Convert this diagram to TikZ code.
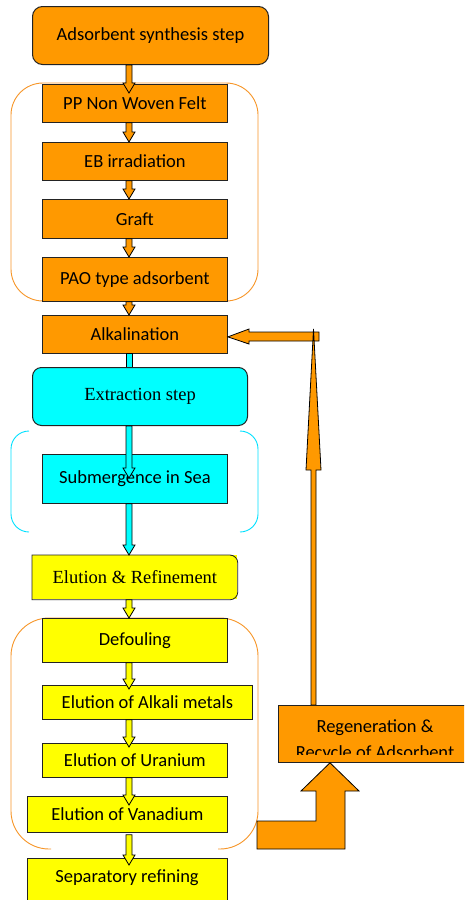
\documentclass[tikz,border=0pt]{standalone}
\usepackage{fontspec}
\setmainfont{Carlito}
\newfontfamily\serifface{Liberation Serif}
\usetikzlibrary{calc}
\definecolor{org}{RGB}{255,153,0}
\definecolor{cyn}{RGB}{0,255,255}
\definecolor{yel}{RGB}{255,255,0}
\definecolor{brorg}{RGB}{247,150,40}
\definecolor{brcyn}{RGB}{0,225,255}
\definecolor{edge}{RGB}{35,35,35}
\tikzset{
  base/.style={draw=edge, line width=0.8pt, inner sep=0pt, anchor=north west,
    font=\fontsize{18.5}{22}\selectfont, text=black},
  obox/.style={base, fill=org},
  cbox/.style={base, fill=cyn},
  ybox/.style={base, fill=yel},
  arrowline/.style={draw=black, line width=0.8pt, line join=miter},
  bracket/.style={line width=0.9pt},
  txt/.style={font=\fontsize{18.5}{22}\selectfont, inner sep=0pt, text=black}
}
\newcommand\blkarrow[3]{\filldraw[arrowline,fill=#1] let \p1=#2, \p2=#3 in
  (\x1-3pt,\y1) -- (\x1-3pt,\y2+10pt) -- (\x1-6pt,\y2+10pt) -- (\x1,\y2) --
  (\x1+6pt,\y2+10pt) -- (\x1+3pt,\y2+10pt) -- (\x1+3pt,\y1) -- cycle;}
\begin{document}
\begin{tikzpicture}[x=1pt,y=-1pt]
\clip (0,0) rectangle (464,900);
\fill[white] (0,0) rectangle (464,900);
\coordinate (ax) at (129,0);
% brackets
\draw[bracket, brorg, rounded corners=32pt] (11,83) rectangle (258,301);
\draw[bracket, brcyn, rounded corners=18pt] (29,431) -- (11,431) -- (11,532) -- (29,532);
\draw[bracket, brcyn, rounded corners=18pt] (240,431) -- (258,431) -- (258,532) -- (240,532);
\draw[bracket, brorg, rounded corners=38pt] (51,849) -- (11,849) -- (11,618) -- (258,618) -- (258,849) -- (218,849);
% boxes
\node[obox, rounded corners=10pt, line width=1pt, minimum width=236pt, minimum height=58pt] (syn) at (32,6) {Adsorbent synthesis step};
\node[obox, minimum width=185pt, minimum height=38pt] (pp) at (42,84) {PP Non Woven Felt};
\node[obox, minimum width=185pt, minimum height=38pt] (eb) at (42,142) {EB irradiation};
\node[obox, minimum width=185pt, minimum height=39pt] (graft) at (42,199) {Graft};
\node[obox, minimum width=185pt, minimum height=44pt] (pao) at (42,257) {PAO type adsorbent};
\node[obox, minimum width=185pt, minimum height=38pt] (alk) at (42,315) {Alkalination};
% alk -> ext shaft
\filldraw[arrowline, fill=cyn] ($(alk.south -| ax)+(-3,0)$) rectangle ($(alk.south -| ax)+(3,20)$);
\node[cbox, rounded corners=9pt, line width=1pt, minimum width=215pt, minimum height=58pt] (ext) at (32,367) {\serifface Extraction step};
\node[cbox, minimum width=185pt, minimum height=49pt] (sub) at (42,454) {Submergence in Sea};
\node[base, draw=none, fill=yel, minimum width=205pt, minimum height=44pt] (er) at (32,555) {\serifface Elution \& Refinement};
\draw[draw=edge, line width=0.8pt] (er.south west) -- (er.north west) [rounded corners=8pt] -- (er.north east) -- (er.south east) [sharp corners] -- cycle;
\node[ybox, minimum width=185pt, minimum height=44pt] (def) at (42,618) {Defouling};
\node[ybox, minimum width=210pt, minimum height=34pt] (alkm) at (42,685) {Elution of Alkali metals};
\node[ybox, minimum width=185pt, minimum height=34pt] (ura) at (42,743) {Elution of Uranium};
\node[ybox, minimum width=200pt, minimum height=36pt] (van) at (27,796) {Elution of Vanadium};
\node[ybox, minimum width=200pt, minimum height=64pt] (sep) at (27,858) {};
\node[txt] (septext) at (127,878) {Separatory refining};
\node[obox, minimum width=194pt, minimum height=57pt] (reg) at (278,705) {};
\node[txt, anchor=base] (rega) at (375,732) {Regeneration \&};
\begin{scope}
\clip (278,705) rectangle (470,754);
\node[txt, anchor=base] (regb) at (375,758) {Recycle of Adsorbent};
\end{scope}
% stack arrows
\blkarrow{org}{(syn.south -| ax)}{($(pp.north -| ax)+(0,9)$)}
\blkarrow{org}{(pp.south -| ax)}{(eb.north -| ax)}
\blkarrow{org}{(eb.south -| ax)}{(graft.north -| ax)}
\blkarrow{org}{(graft.south -| ax)}{(pao.north -| ax)}
\blkarrow{org}{(pao.south -| ax)}{(alk.north -| ax)}
\blkarrow{cyn}{(ext.south -| ax)}{($(sub.north -| ax)+(0,24)$)}
\blkarrow{cyn}{(sub.south -| ax)}{(er.north -| ax)}
\blkarrow{yel}{(er.south -| ax)}{(def.north -| ax)}
\blkarrow{yel}{(def.south -| ax)}{($(alkm.north -| ax)+(0,4)$)}
\blkarrow{yel}{(alkm.south -| ax)}{($(ura.north -| ax)+(0,4)$)}
\blkarrow{yel}{(ura.south -| ax)}{($(van.north -| ax)+(0,9)$)}
\blkarrow{yel}{($(van.south -| ax)+(0,2)$)}{($(sep.north -| ax)+(0,7)$)}
% recycle arrows
\filldraw[arrowline, fill=org] (319,332) -- (249,332) -- (249,329) -- ($(alk.east)+(0,2.5)$) -- (249,344) -- (249,341) -- (319,341) -- cycle;
\filldraw[arrowline, fill=org] (reg.north -| 311,0) -- (311,470) -- (306,470) -- (313.5,329) -- (321,470) -- (316,470) -- (reg.north -| 316,0) -- cycle;
\filldraw[arrowline, fill=org] (257,821) -- (257,849) -- (345,849) -- (345,791) -- (359,791) -- ($(reg.south west)+(52,0)$) -- (301,791) -- (316,791) -- (316,821) -- cycle;
\end{tikzpicture}
\end{document}
